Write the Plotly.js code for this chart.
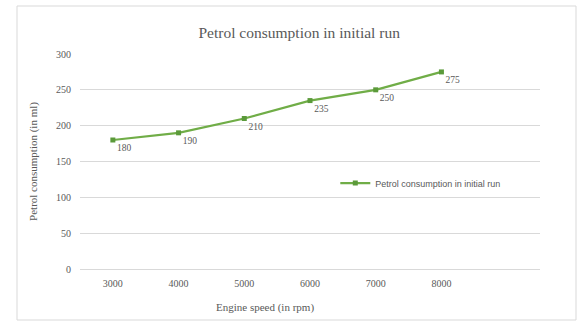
<!DOCTYPE html>
<html>
<head>
<meta charset="utf-8">
<script src="https://cdn.plot.ly/plotly-3.0.1.min.js"></script>
<style>html,body{margin:0;padding:0;background:#fff;}#chart{width:581px;height:325px;}</style>
</head>
<body>
<div id="chart"></div>
<script>
const engineSpeed = [3000, 4000, 5000, 6000, 7000, 8000];
const consumption = [180, 190, 210, 235, 250, 275];
const xTickLabels = ['3000', '4000', '5000', '6000', '7000', '8000'];
const yTicks = [0, 50, 100, 150, 200, 250, 300];
const seriesName = 'Petrol consumption in initial run';

const serif = 'Liberation Serif, DejaVu Serif, serif';
const grey = '#595959';

const trace = {
  x: engineSpeed,
  y: consumption,
  type: 'scatter',
  mode: 'lines+markers+text',
  name: seriesName,
  text: consumption.map(String),
  textposition: 'bottom right',
  textfont: {family: serif, size: 9.5, color: grey},
  line: {color: '#70AD47', width: 2.25},
  marker: {color: '#5B9A3A', size: 5, symbol: 'square'},
  cliponaxis: false
};

const layout = {
  width: 581, height: 325,
  margin: {l: 80, r: 41, t: 54, b: 56},
  paper_bgcolor: '#fff', plot_bgcolor: '#fff',
  title: {text: seriesName, font: {family: serif, size: 15.5, color: grey}, x: 0.515, xanchor: 'center', y: 0.9, yanchor: 'middle'},
  showlegend: true,
  legend: {x: 0.555, y: 0.4, xanchor: 'left', yanchor: 'middle', font: {family: 'Liberation Sans, Arial, sans-serif', size: 9, color: grey}, bgcolor: 'rgba(0,0,0,0)'},
  xaxis: {
    range: [2500, 9500], tickvals: engineSpeed, ticktext: xTickLabels,
    showgrid: false, zeroline: false, showline: false, ticks: '', ticklabelstandoff: 7,
    tickfont: {family: serif, size: 10, color: grey}, fixedrange: true
  },
  yaxis: {
    range: [0, 300], tickvals: yTicks, showgrid: true, gridcolor: '#d9d9d9', gridwidth: 1,
    zeroline: true, zerolinecolor: '#d9d9d9', zerolinewidth: 1, showline: false, ticks: '', ticklabelstandoff: 8,
    tickfont: {family: serif, size: 10, color: grey},
    title: {text: 'Petrol consumption (in ml)', font: {family: serif, size: 11, color: grey}, standoff: 16},
    fixedrange: true
  },
  annotations: [{
    text: 'Engine speed (in rpm)', xref: 'paper', yref: 'paper',
    x: (265 - 80) / 460, y: (269 - 307) / 215, xanchor: 'center', yanchor: 'middle',
    showarrow: false, font: {family: serif, size: 11, color: grey}
  }],
  shapes: [{
    type: 'rect', xref: 'paper', yref: 'paper',
    x0: (17 - 80) / 460, x1: (576 - 80) / 460,
    y0: (269 - 320) / 215, y1: (269 - 6) / 215,
    line: {color: '#d9d9d9', width: 1}, fillcolor: 'rgba(0,0,0,0)', layer: 'below'
  }]
};

Plotly.newPlot('chart', [trace], layout, {displayModeBar: false, staticPlot: true});
</script>
</body>
</html>
